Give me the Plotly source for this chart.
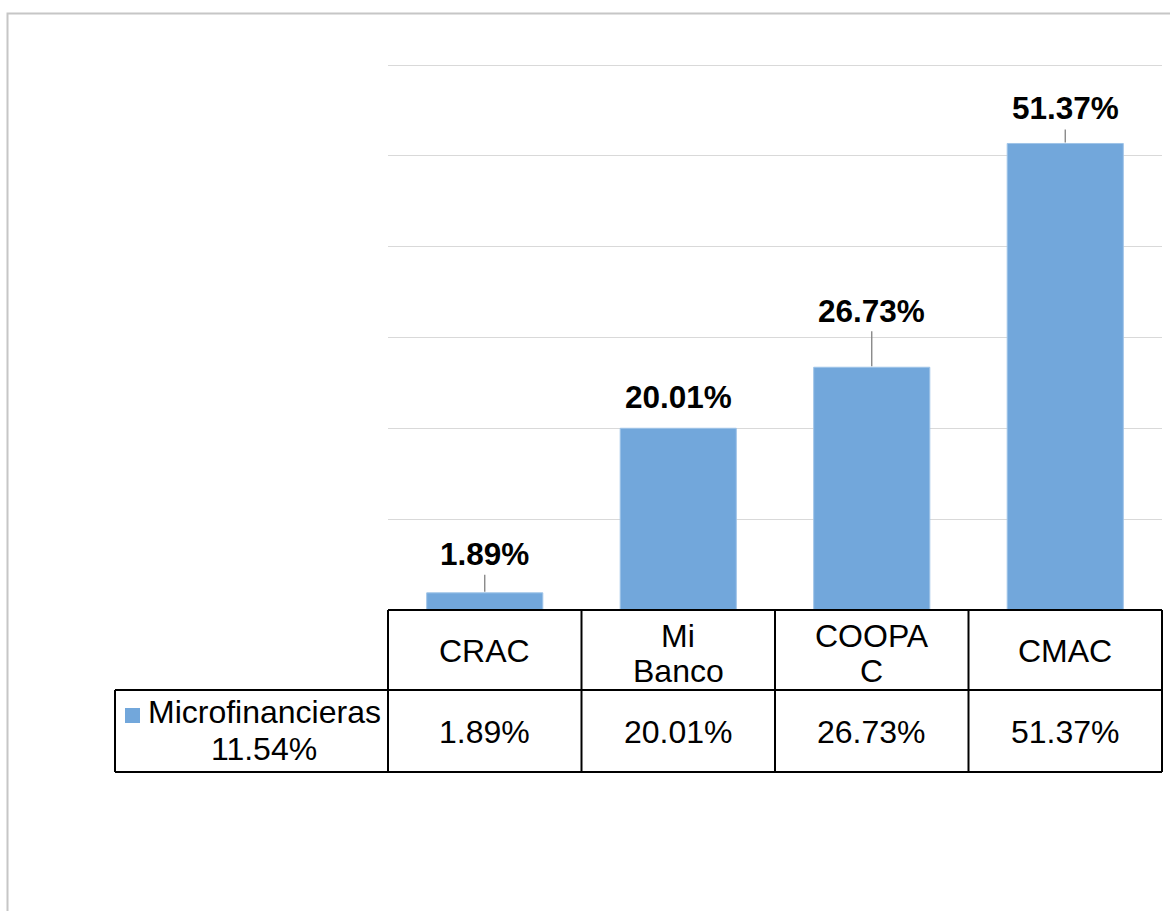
import plotly.graph_objects as go

# ---------------- data ----------------
categories = ["CRAC", "Mi<br>Banco", "COOPA<br>C", "CMAC"]
values = [1.89, 20.01, 26.73, 51.37]
value_labels = ["1.89%", "20.01%", "26.73%", "51.37%"]
series_name = ["Microfinancieras", "11.54%"]

# ---------------- style / layout ----------------
W, H = 1170, 911
FONT = "Liberation Sans, Arial, sans-serif"
FS = 32
FS_BOLD = 31.5
BAR_COLOR = "#72A7DB"
BAR_EDGE = "#9FC4E8"
GRID = "#D9D9D9"

PLOT_L, PLOT_R = 388, 1162
PLOT_T, PLOT_B = 65, 610
ROW1_B = 690
ROW2_B = 772
LEG_L = 115

label_shift_px = [39, 31, 56, 35]   # label centre above bar top
leader_len_px = [18, 0, 36, 14]     # leader line length


def py(p):
    return 1 - p / H


def px(p):
    return p / W


x_ids = list(range(len(categories)))

fig = go.Figure()
fig.add_trace(go.Bar(
    x=x_ids, y=values, name=" ".join(series_name),
    marker=dict(color=BAR_COLOR, line=dict(color=BAR_EDGE, width=1)),
    width=0.6, showlegend=False, hoverinfo="skip",
))

shapes = []
annotations = []

# chart outer border
shapes.append(dict(type="rect", xref="paper", yref="paper",
                   x0=px(7.5), x1=1.2, y0=-0.2, y1=py(13.5),
                   line=dict(color="#C6C6C6", width=2), layer="below"))

# data labels + leader lines
for i, (v, lab) in enumerate(zip(values, value_labels)):
    annotations.append(dict(x=i, y=v, xref="x", yref="y", text="<b>%s</b>" % lab,
                            showarrow=False, yshift=label_shift_px[i],
                            font=dict(family=FONT, size=FS_BOLD, color="black"),
                            xanchor="center", yanchor="middle"))
    if leader_len_px[i] > 0:
        shapes.append(dict(type="line", xref="x", yref="y", ysizemode="pixel",
                           yanchor=v, x0=i, x1=i, y0=1, y1=leader_len_px[i],
                           line=dict(color="#808080", width=1.3)))

# data table lines
n = len(categories)
LINE = dict(color="black", width=2)
shapes.append(dict(type="line", xref="x domain", yref="paper", x0=0, x1=1,
                   y0=py(PLOT_B), y1=py(PLOT_B), line=LINE))
shapes.append(dict(type="line", xref="paper", yref="paper", x0=px(LEG_L), x1=px(PLOT_R),
                   y0=py(ROW1_B), y1=py(ROW1_B), line=LINE))
shapes.append(dict(type="line", xref="paper", yref="paper", x0=px(LEG_L), x1=px(PLOT_R),
                   y0=py(ROW2_B), y1=py(ROW2_B), line=LINE))
for k in range(n + 1):
    shapes.append(dict(type="line", xref="x domain", yref="paper", x0=k / n, x1=k / n,
                       y0=py(PLOT_B), y1=py(ROW2_B), line=LINE))
shapes.append(dict(type="line", xref="paper", yref="paper", x0=px(LEG_L), x1=px(LEG_L),
                   y0=py(ROW1_B), y1=py(ROW2_B), line=LINE))

# legend key
shapes.append(dict(type="rect", xref="paper", yref="paper",
                   x0=px(125), x1=px(140), y0=py(723), y1=py(708),
                   fillcolor=BAR_COLOR, line=dict(width=0)))

# header text (categories)
for i, c in enumerate(categories):
    parts = c.split("<br>")
    ys = [651] if len(parts) == 1 else [636, 671]
    for t, yy in zip(parts, ys):
        annotations.append(dict(x=i, y=py(yy), xref="x", yref="paper", text=t,
                                showarrow=False, xanchor="center", yanchor="middle",
                                font=dict(family=FONT, size=FS, color="black")))
# values row
for i, lab in enumerate(value_labels):
    annotations.append(dict(x=i, y=py(732), xref="x", yref="paper", text=lab,
                            showarrow=False, xanchor="center", yanchor="middle",
                            font=dict(family=FONT, size=FS, color="black")))
# legend text
for t, yy in zip(series_name, [712, 749]):
    annotations.append(dict(x=px(264), y=py(yy), xref="paper", yref="paper", text=t,
                            showarrow=False, xanchor="center", yanchor="middle",
                            font=dict(family=FONT, size=FS, color="black")))

fig.update_layout(
    width=W, height=H, margin=dict(l=0, r=0, t=0, b=0),
    paper_bgcolor="white", plot_bgcolor="white",
    xaxis=dict(domain=[px(PLOT_L), px(PLOT_R)], range=[-0.5, n - 0.5],
               showticklabels=False, showgrid=False, zeroline=False, showline=False,
               ticks=""),
    yaxis=dict(domain=[py(PLOT_B), py(PLOT_T - 1)], range=[0, 60.12], dtick=10,
               showticklabels=False, showgrid=True, gridcolor=GRID, gridwidth=1,
               zeroline=False, showline=False, ticks=""),
    bargap=0.4,
    shapes=shapes, annotations=annotations,
    font=dict(family=FONT),
)

fig.write_html("out.html")
